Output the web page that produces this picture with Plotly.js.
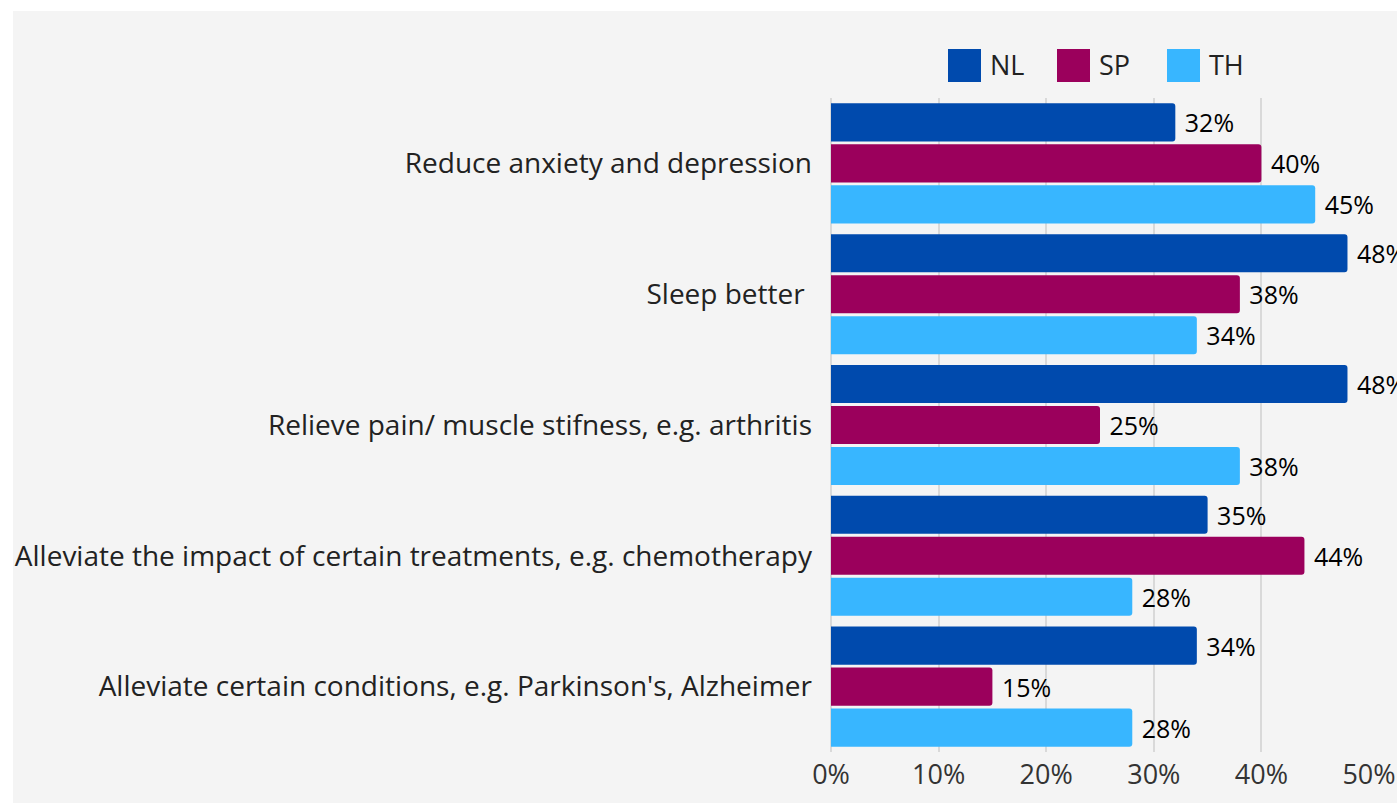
<!DOCTYPE html>
<html>
<head>
<meta charset="utf-8">
<script src="https://cdn.plot.ly/plotly-3.0.1.min.js"></script>
<style>
  html, body { margin: 0; padding: 0; background: #ffffff; overflow: hidden; }
  #bg { position: absolute; left: 13px; top: 11px; width: 1384px; height: 792px; background: #f4f4f4; }
  #chart { position: absolute; left: 0; top: 0; width: 1397px; height: 803px; }
</style>
</head>
<body>
<div id="bg"></div>
<div id="chart"></div>
<script>
const categories = [
  "Reduce anxiety and depression",
  "Sleep better ",
  "Relieve pain/ muscle stifness, e.g. arthritis",
  "Alleviate the impact of certain treatments, e.g. chemotherapy",
  "Alleviate certain conditions, e.g. Parkinson's, Alzheimer"
];
const seriesNames = ["NL", "SP", "TH"];
const nlValues = [32, 48, 48, 35, 34];
const spValues = [40, 38, 25, 44, 15];
const thValues = [45, 34, 38, 28, 28];
const xTickValues = [0, 10, 20, 30, 40, 50];
const xTickLabels = ["0%", "10%", "20%", "30%", "40%", "50%"];

const colors = ["#004aad", "#9b005c", "#38b6ff"];
const seriesValues = [nlValues, spValues, thValues];

const W = 1397, H = 803;
const M = { l: 831, r: 28, t: 98, b: 51 };
const plotW = W - M.l - M.r, plotH = H - M.t - M.b;
const px2x = px => (px - M.l) / plotW;
const py2y = py => (H - M.b - py) / plotH;

const traces = seriesNames.map((name, i) => ({
  type: "bar",
  orientation: "h",
  name: name,
  y: categories,
  x: seriesValues[i],
  marker: { color: colors[i], cornerradius: 3, line: { width: 0 } },
  text: seriesValues[i].map(v => v + "%"),
  texttemplate: " %{text}",
  textposition: "outside",
  textfont: { family: "Open Sans", size: 25, color: "#000000" },
  cliponaxis: false,
  constraintext: "none",
  hoverinfo: "x+y"
}));

// Manual legend (large square swatches)
const legendSquareX = [948, 1057, 1167];
const shapes = [];
const annotations = [];
seriesNames.forEach((name, i) => {
  shapes.push({
    type: "rect", xref: "paper", yref: "paper",
    x0: px2x(legendSquareX[i]), x1: px2x(legendSquareX[i] + 33),
    y0: py2y(82), y1: py2y(49),
    fillcolor: colors[i], line: { width: 0 }
  });
  annotations.push({
    xref: "paper", yref: "paper",
    x: px2x(legendSquareX[i] + 40), y: py2y(65),
    xanchor: "left", yanchor: "middle",
    text: name, showarrow: false,
    font: { family: "Open Sans", size: 27, color: "#222222" }
  });
});

const layout = {
  width: W, height: H,
  margin: M,
  paper_bgcolor: "rgba(0,0,0,0)",
  plot_bgcolor: "rgba(0,0,0,0)",
  barmode: "group",
  bargap: 0.06,
  bargroupgap: 0.07,
  showlegend: false,
  xaxis: {
    range: [0, 50],
    tickvals: xTickValues,
    ticktext: xTickLabels,
    showgrid: true,
    gridcolor: "#d9d9d9",
    gridwidth: 2,
    zeroline: true,
    zerolinecolor: "#d9d9d9",
    zerolinewidth: 2,
    showline: false,
    ticks: "",
    ticklabelstandoff: 4,
    tickfont: { family: "Open Sans", size: 27, color: "#333333" },
    fixedrange: true
  },
  yaxis: {
    autorange: "reversed",
    showgrid: false,
    zeroline: false,
    showline: false,
    ticks: "",
    ticklabelstandoff: 18,
    tickfont: { family: "Open Sans", size: 28, color: "#222222" },
    fixedrange: true
  },
  shapes: shapes,
  annotations: annotations
};

Plotly.newPlot("chart", traces, layout, { displayModeBar: false, staticPlot: true });
</script>
</body>
</html>
